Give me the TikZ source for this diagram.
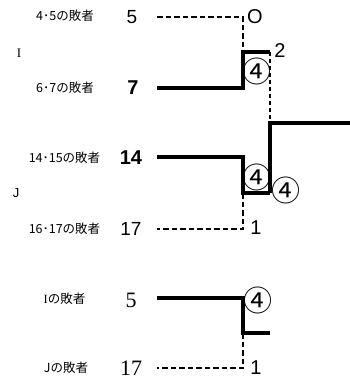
\documentclass[tikz,border=0pt]{standalone}
\usepackage{fontspec}
\setmainfont{Liberation Serif}
\setsansfont{Liberation Sans}
\newfontfamily\jpfont{Noto Sans CJK JP}
\usetikzlibrary{calc}

\tikzset{
  win/.style={line width=3.4pt},
  lose/.style={line width=2.2pt, dash pattern=on 5.5pt off 3pt},
  loselink/.style={line width=2.8pt, dash pattern=on 4pt off 3pt},
  who/.style={inner sep=0pt, font=\jpfont\fontsize{12.5}{14}\selectfont},
  seed/.style={inner sep=0pt, font=\sffamily\fontsize{19}{20}\selectfont},
  seedrm/.style={inner sep=0pt, font=\rmfamily\fontsize{22}{24}\selectfont},
  score/.style={inner sep=0pt, font=\jpfont\fontsize{29}{30}\selectfont},
  res/.style={inner sep=0pt, font=\sffamily\fontsize{20}{22}\selectfont}
}

\begin{document}
\begin{tikzpicture}[x=1pt, y=-1pt]
\useasboundingbox (0,0) rectangle (350,381);

% Define coordinates of the brackets
\coordinate (IA) at (157,17);
\coordinate (IB) at (157,88);
\coordinate (IC) at (243,17);
\coordinate (ID) at (243,88);
\coordinate (IM) at (243,52);
\coordinate (IW) at (270,52);
\coordinate (JA) at (157,157);
\coordinate (JB) at (157,229);
\coordinate (JC) at (243,157);
\coordinate (JD) at (243,229);
\coordinate (JM) at (243,193);
\coordinate (JW) at (270,193);
\coordinate (F) at (270,123);
\coordinate (Fend) at (350,123);
\coordinate (KA) at (157,298);
\coordinate (KB) at (157,368);
\coordinate (KC) at (243,298);
\coordinate (KD) at (243,368);
\coordinate (KM) at (243,333);
\coordinate (KW) at (270,333);

% Group names
\node[inner sep=0pt, font=\rmfamily\fontsize{13}{14}\selectfont] (nameI) at (19,53) {I};
\node[inner sep=0pt, font=\sffamily\fontsize{13}{14}\selectfont] (nameJ) at (16,193) {J};

% Entrants
\node[who] (w45) at (65,16) {4･5の敗者};
\node[who] (w67) at (65,88) {6･7の敗者};
\node[who] (w1415) at (64.5,158) {14･15の敗者};
\node[who] (w1617) at (64.5,229) {16･17の敗者};
\node[who] (wI) at (64.5,299) {{\rmfamily I}の敗者};
\node[who] (wJ) at (66,368) {Jの敗者};

\node[seed] (s5) at (132,17) {5};
\node[seed, font=\sffamily\bfseries\fontsize{20}{22}\selectfont] (s7) at (133,88) {7};
\node[seed, font=\sffamily\bfseries\fontsize{20}{22}\selectfont] (s14) at (131,158) {14};
\node[seed] (s17) at (131,229) {17};
\node[seedrm] (t5) at (131,300) {5};
\node[seedrm] (t17) at (131,368) {17};

% Bracket I
\draw[lose] (IA) -- (IC) -- (IM);
\draw[win] (IB) -- (ID) -- (IM) -- (IW);
\node[res] (rI1) at (255,17) {O};
\node[res] (rI2) at (280,51) {2};
\node[score] (pI) at (257,71) {④};

% Bracket J
\draw[win] (JA) -- (JC) -- (JM) -- (JW);
\draw[lose] (JM) -- (JD) -- (JB);
\node[score] (pJ) at (257,177) {④};
\node[res] (rJ1) at (256,228) {1};

% Final of I and J
\draw[loselink] (IW) -- (F);
\draw[win] (JW) -- (F) -- (Fend);
\node[score] (pF) at (286,190) {④};

% Losers of I and J
\draw[win] (KA) -- (KC) -- (KM) -- (KW);
\draw[lose] (KM) -- (KD) -- (KB);
\node[score] (pK) at (258,300) {④};
\node[res] (rK1) at (256,368) {1};

\end{tikzpicture}
\end{document}
